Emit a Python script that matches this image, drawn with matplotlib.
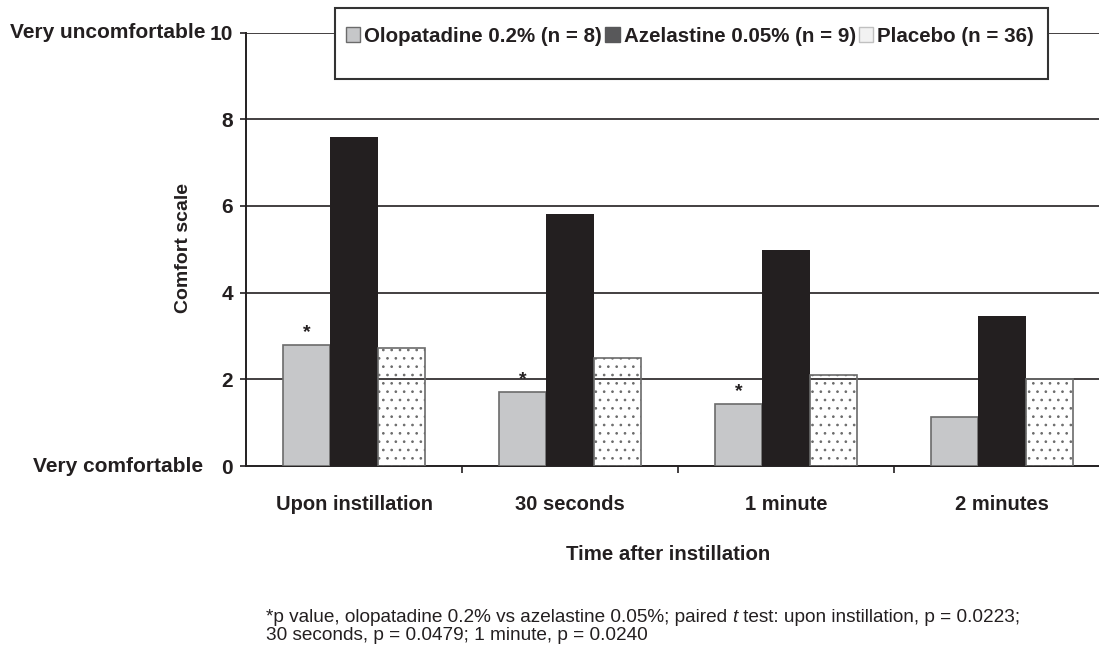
import matplotlib
matplotlib.use("Agg")
import matplotlib.pyplot as plt
import numpy as np
from matplotlib.patches import Rectangle, Patch

plt.rcParams['font.family'] = ['Liberation Sans', 'DejaVu Sans']
plt.rcParams['hatch.linewidth'] = 0.7
plt.rcParams['hatch.color'] = '#231f20'

categories = ["Upon instillation", "30 seconds", "1 minute", "2 minutes"]
olopatadine = [2.78, 1.71, 1.42, 1.12]
azelastine = [7.59, 5.81, 4.98, 3.46]
placebo = [2.72, 2.48, 2.11, 2.00]
series_labels = ["Olopatadine 0.2% (n = 8)", "Azelastine 0.05% (n = 9)", "Placebo (n = 36)"]
significant = [True, True, True, False]
yticks = [0, 2, 4, 6, 8, 10]

DARK = '#231f20'
W, H = 1099, 647
fig = plt.figure(figsize=(W / 100, H / 100), dpi=100)
ax = fig.add_axes([246 / W, 1 - 466 / H, 864 / W, 433.5 / H])

x = np.arange(len(categories))
w = 0.2176
ax.bar(x - w, olopatadine, w, color='#c6c7c9', edgecolor='#6b6b6b', linewidth=1.2, zorder=3)
ax.bar(x, azelastine, w, color=DARK, edgecolor=DARK, linewidth=0, zorder=3)
ax.bar(x + w, placebo, w, facecolor='none', edgecolor='#6b6b6b', linewidth=1.2,
       hatch='..', zorder=3)

for xi, v, s in zip(x, olopatadine, significant):
    if s:
        ax.annotate('*', (xi - w, v), xytext=(0, 3), textcoords='offset points',
                    ha='center', va='bottom', fontsize=14, fontweight='bold', color=DARK)

ax.set_xlim(-0.5, 3.5)
ax.set_ylim(0, 10)
ax.set_yticks(yticks)
ax.set_yticklabels([str(t) for t in yticks], fontsize=15, fontweight='bold', color=DARK)
ax.tick_params(axis='y', length=4.5, width=1.2, color=DARK, pad=5)
for t in yticks[1:]:
    ax.axhline(t, color=DARK, linewidth=1.2, zorder=1)

ax.set_xticks([0.5, 1.5, 2.5])
ax.set_xticklabels([])
ax.tick_params(axis='x', which='major', length=5, width=1.2, color=DARK)
ax.set_xticks(x, minor=True)
ax.set_xticklabels(categories, minor=True, fontsize=14.5, fontweight='bold', color=DARK)
ax.tick_params(axis='x', which='minor', length=0, pad=21)

for sp in ['top', 'right']:
    ax.spines[sp].set_visible(False)
for sp in ['left', 'bottom']:
    ax.spines[sp].set_color(DARK)
    ax.spines[sp].set_linewidth(1.4)

fig.text(205 / W, 1 - 32 / H, "Very uncomfortable", ha='right', va='center',
         fontsize=15, fontweight='bold', color=DARK)
fig.text(203 / W, 1 - 466 / H, "Very comfortable", ha='right', va='center',
         fontsize=15, fontweight='bold', color=DARK)

fig.text(183 / W, 1 - 248 / H, "Comfort scale", rotation=90, ha='center', va='center',
         fontsize=14, fontweight='bold', color=DARK)
fig.text(668 / W, 1 - 555 / H, "Time after instillation", ha='center', va='center',
         fontsize=14.7, fontweight='bold', color=DARK)

# legend box
fig.patches.append(Rectangle((335 / W, 1 - 79 / H), (1048 - 335) / W, 71 / H,
                             transform=fig.transFigure, facecolor='white',
                             edgecolor='#333333', linewidth=1.5, zorder=5))
handles = [Patch(facecolor='#c6c7c9', edgecolor='#6b6b6b', linewidth=1),
           Patch(facecolor='#58585a', edgecolor='#58585a', linewidth=1),
           Patch(facecolor='#f2f2f2', edgecolor='#c0c0c0', linewidth=1)]
leg = fig.legend(handles, series_labels, ncol=3, loc='center', frameon=False,
                 bbox_to_anchor=(690 / W, 1 - 36 / H),
                 prop={'weight': 'bold', 'size': 14.8},
                 handlelength=0.7, handleheight=0.7, handletextpad=0.2,
                 columnspacing=0.15)
leg.set_zorder(6)
for t in leg.get_texts():
    t.set_color(DARK)

# footnote (with italic t)
fs = 13.7
renderer = fig.canvas.get_renderer()
pieces = [("*p value, olopatadine 0.2% vs azelastine 0.05%; paired ", 'normal'),
          ("t", 'italic'),
          (" test: upon instillation, p = 0.0223;", 'normal')]
xpos = 266 / W
for txt, style in pieces:
    tt = fig.text(xpos, 1 - 617 / H, txt, ha='left', va='center', fontsize=fs,
                  style=style, color=DARK)
    bb = tt.get_window_extent(renderer=renderer)
    xpos += bb.width / W
fig.text(266 / W, 1 - 636 / H, "30 seconds, p = 0.0479; 1 minute, p = 0.0240",
         ha='left', va='center', fontsize=fs, color=DARK)

fig.savefig("out.png", dpi=100)
